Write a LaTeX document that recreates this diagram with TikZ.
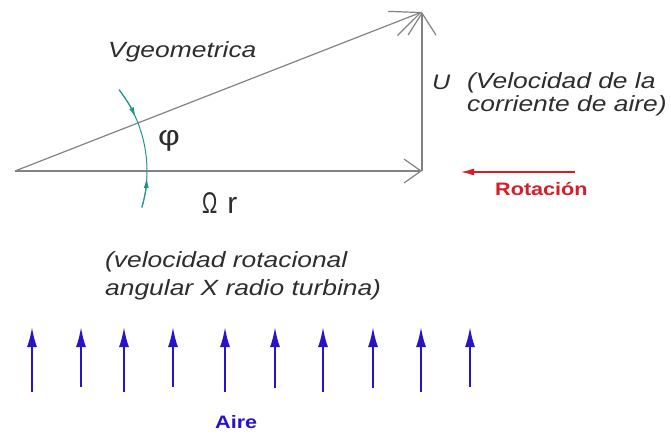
\documentclass[tikz,border=0pt]{standalone}
\usepackage{fontspec}
\setmainfont{Liberation Sans}[FakeStretch=1.2]
\usetikzlibrary{arrows.meta}
\definecolor{vecgray}{RGB}{130,130,130}
\definecolor{txtgray}{RGB}{45,45,45}
\definecolor{angteal}{RGB}{30,150,140}
\definecolor{rotred}{RGB}{215,30,40}
\definecolor{airblue}{RGB}{40,20,200}

\begin{document}
\begin{tikzpicture}[
  x=1pt, y=-1pt,
  vec/.style={draw=vecgray, line width=1.2pt},
  lbl/.style={anchor=base west, inner sep=0pt, text=txtgray, font=\fontsize{22}{23}\selectfont\itshape},
  angarc/.style={draw=angteal, line width=1pt},
  airarrow/.style={draw=airblue, line width=2pt, -{Latex[length=20pt,width=10pt]}},
  tag/.style={anchor=base west, inner sep=0pt, font=\fontsize{18}{20}\selectfont\bfseries}
]
\useasboundingbox (0,0) rectangle (671,437);
\coordinate (O) at (15,171);
\coordinate (A) at (422,171);
\coordinate (B) at (422,12);
\draw[vec, -{Straight Barb[length=17pt,width=24pt]}] (O) -- (A);
\draw[vec, -{Straight Barb[length=22pt,width=28pt]}] (A) -- (B);
\draw[vec, -{Straight Barb[length=30pt,width=26pt]}] (O) -- (B);
\draw[angarc] (O) ++(-38:132) arc[start angle=-38, end angle=16, radius=132];
\draw[angarc, -{Latex[length=10pt,width=5pt]}] (O) ++(-38:132) arc[start angle=-38, end angle=-24, radius=132];
\draw[angarc, -{Latex[length=10pt,width=5pt]}] (O) ++(16:132) arc[start angle=16, end angle=3, radius=132];
\node[lbl] (vgeo) at (108,57) {Vgeometrica};
\node[lbl, font=\fontsize{21}{23}\selectfont\itshape] (u) at (432,89) {U};
\node[lbl, align=left] (uinfo) at (467,111) {(Velocidad de la\\corriente de aire)};
\node[inner sep=0pt, text=txtgray, font=\fontsize{28}{30}\selectfont] (phi) at (169,141) {φ};
\node[lbl, font=\fontsize{30}{32}\selectfont\addfontfeature{FakeStretch=1}] (omr) at (202,213) {{\addfontfeature{FakeStretch=0.68}Ω}\,\,r};
\node[lbl, align=left, font=\fontsize{22}{28}\selectfont\itshape] (ominfo) at (105,295) {(velocidad rotacional\\angular X radio turbina)};
\node[tag, text=rotred] (rot) at (495,195) {Rotación};
\coordinate (rs) at (575,172);
\coordinate (re) at (460,172);
\draw[draw=rotred, line width=2pt, -{Latex[length=14pt,width=7pt]}] (rs) -- (re);
\foreach \xa/\yb in {32/392, 81/387, 124/392, 173/387, 225/392, 275/388, 323/392, 373/388, 421/392, 470/387}
  \draw[airarrow] (\xa,\yb) -- (\xa,327);
\node[tag, text=airblue] (aire) at (215,428) {Aire};
\end{tikzpicture}
\end{document}
